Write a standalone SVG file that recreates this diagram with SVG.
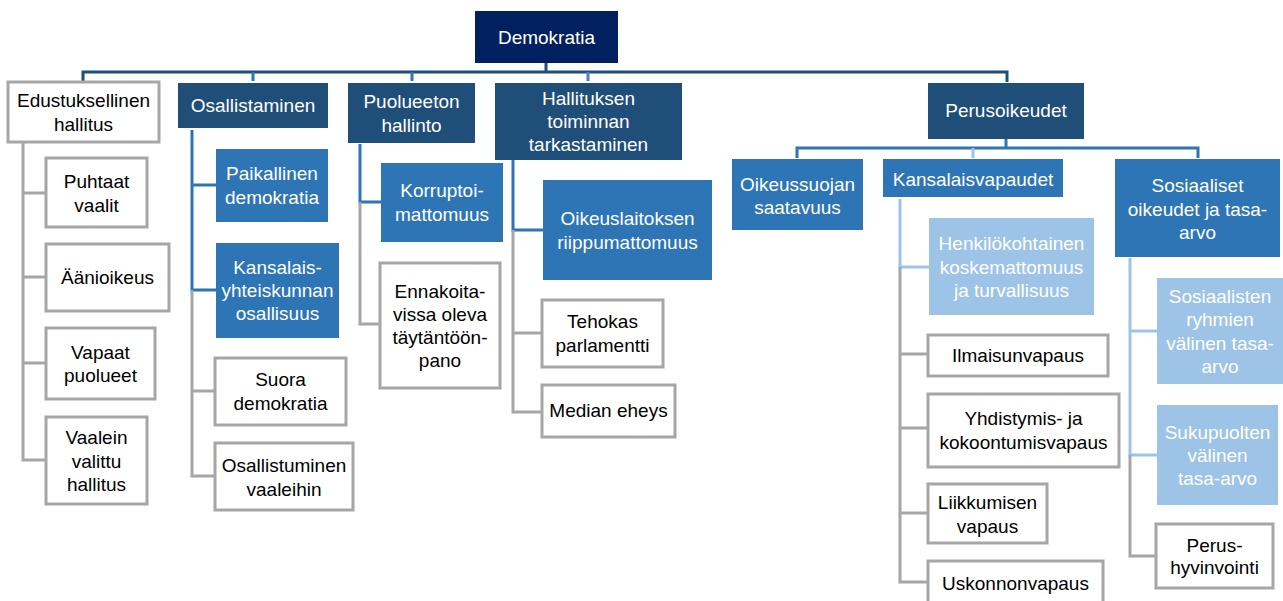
<svg xmlns="http://www.w3.org/2000/svg" width="1283" height="601" viewBox="0 0 1283 601">
<style>
text{font-family:"Liberation Sans",Arial,sans-serif;font-size:19px;text-anchor:middle;dominant-baseline:central}
.root{fill:#002060}
.l1{fill:#1F4E79}
.l2{fill:#2E75B6}
.l3{fill:#9DC3E6}
.w{fill:#FFFFFF;stroke:#A6A6A6;stroke-width:3}
.wt{fill:#FFFFFF}
.bt{fill:#000000}
.c{fill:none;stroke-width:3}
.cd{stroke:#1F4E79}
.cm{stroke:#2E75B6}
.cl{stroke:#9DC3E6}
.cg{stroke:#A6A6A6}
.ch{stroke:#4A7CC9}
</style>
<rect width="1283" height="601" fill="#FFFFFF"/>
<g id="connectors">
<path class="c cd" d="M546,63 V72 M83,81 V72 H1007 V82"/>
<path class="c cm" d="M253,72 V81 M412,72 V81"/>
<path class="c ch" d="M588,72 V81"/>
<path class="c cm" d="M1006,139 V148 M797,158 V148 H1198 V158"/>
<path class="c cl" d="M973,148 V158"/>
<path class="c cg" d="M23,142 V460 H45 M23,193 H45 M23,277 H45 M23,363 H45"/>
<path class="c cm" d="M192,130 V290 H216 M192,185 H216"/>
<path class="c cg" d="M192,290 V476 H214 M192,391 H214"/>
<path class="c cm" d="M360,144 V202 H381"/>
<path class="c cg" d="M360,202 V324 H379"/>
<path class="c cm" d="M513,160 V230 H543"/>
<path class="c cg" d="M513,230 V412 H541 M513,333 H541"/>
<path class="c cl" d="M900,199 V267 H929"/>
<path class="c cg" d="M900,267 V582 H927 M900,354 H927 M900,428 H927 M900,513 H927"/>
<path class="c cl" d="M1130,258 V455 H1157 M1130,331 H1157"/>
<path class="c cg" d="M1130,455 V556 H1155"/>
</g>
<g id="n-demokratia"><rect class="root" x="475" y="11" width="143" height="52"/><text class="wt" x="546.5" y="37">Demokratia</text></g>
<g id="n-edustuksellinen"><rect class="w" x="8" y="82" width="151" height="60"/><text class="bt" x="83.5" y="100">Edustuksellinen</text><text class="bt" x="83.5" y="124">hallitus</text></g>
<g id="n-puhtaat"><rect class="w" x="46" y="158" width="101" height="69"/><text class="bt" x="96.5" y="181">Puhtaat</text><text class="bt" x="96.5" y="205">vaalit</text></g>
<g id="n-aanioikeus"><rect class="w" x="46" y="244" width="123" height="67"/><text class="bt" x="107.5" y="277">Äänioikeus</text></g>
<g id="n-vapaat"><rect class="w" x="46" y="328" width="109" height="71"/><text class="bt" x="100.5" y="352">Vapaat</text><text class="bt" x="100.5" y="375">puolueet</text></g>
<g id="n-vaalein"><rect class="w" x="46" y="417" width="101" height="87"/><text class="bt" x="96.5" y="437">Vaalein</text><text class="bt" x="96.5" y="461">valittu</text><text class="bt" x="96.5" y="484">hallitus</text></g>
<g id="n-osallistaminen"><rect class="l1" x="178" y="83" width="150" height="45"/><text class="wt" x="253" y="105">Osallistaminen</text></g>
<g id="n-paikallinen"><rect class="l2" x="216" y="149" width="112" height="73"/><text class="wt" x="272" y="173">Paikallinen</text><text class="wt" x="272" y="197">demokratia</text></g>
<g id="n-kansalaisyhteiskunta"><rect class="l2" x="216" y="243" width="123" height="95"/><text class="wt" x="277.5" y="267">Kansalais-</text><text class="wt" x="277.5" y="290">yhteiskunnan</text><text class="wt" x="277.5" y="313">osallisuus</text></g>
<g id="n-suora"><rect class="w" x="215" y="358" width="131" height="67"/><text class="bt" x="280.5" y="379">Suora</text><text class="bt" x="280.5" y="403">demokratia</text></g>
<g id="n-osallistuminen"><rect class="w" x="215" y="443" width="138" height="67"/><text class="bt" x="284" y="465">Osallistuminen</text><text class="bt" x="284" y="489">vaaleihin</text></g>
<g id="n-puolueeton"><rect class="l1" x="348" y="83" width="127" height="60"/><text class="wt" x="411.5" y="101">Puolueeton</text><text class="wt" x="411.5" y="125">hallinto</text></g>
<g id="n-korruptio"><rect class="l2" x="381" y="163" width="122" height="79"/><text class="wt" x="442" y="190">Korruptoi-</text><text class="wt" x="442" y="214">mattomuus</text></g>
<g id="n-ennakoitava"><rect class="w" x="380" y="263" width="120" height="125"/><text class="bt" x="440" y="291">Ennakoita-</text><text class="bt" x="440" y="314">vissa oleva</text><text class="bt" x="440" y="337">täytäntöön-</text><text class="bt" x="440" y="360">pano</text></g>
<g id="n-hallituksen"><rect class="l1" x="495" y="83" width="187" height="77"/><text class="wt" x="588.5" y="98">Hallituksen</text><text class="wt" x="588.5" y="121">toiminnan</text><text class="wt" x="588.5" y="144">tarkastaminen</text></g>
<g id="n-oikeuslaitos"><rect class="l2" x="543" y="180" width="169" height="100"/><text class="wt" x="627.5" y="218">Oikeuslaitoksen</text><text class="wt" x="627.5" y="242">riippumattomuus</text></g>
<g id="n-tehokas"><rect class="w" x="542" y="300" width="121" height="67"/><text class="bt" x="602.5" y="321">Tehokas</text><text class="bt" x="602.5" y="345">parlamentti</text></g>
<g id="n-median"><rect class="w" x="542" y="385" width="133" height="52"/><text class="bt" x="608.5" y="410">Median eheys</text></g>
<g id="n-perusoikeudet"><rect class="l1" x="928" y="83" width="156" height="56"/><text class="wt" x="1006" y="110">Perusoikeudet</text></g>
<g id="n-oikeussuoja"><rect class="l2" x="732" y="159" width="131" height="71"/><text class="wt" x="797.5" y="184">Oikeussuojan</text><text class="wt" x="797.5" y="207">saatavuus</text></g>
<g id="n-kansalaisvapaudet"><rect class="l2" x="883" y="159" width="180" height="38"/><text class="wt" x="973" y="179">Kansalaisvapaudet</text></g>
<g id="n-henkilo"><rect class="l3" x="929" y="218" width="165" height="97"/><text class="wt" x="1011.5" y="243">Henkilökohtainen</text><text class="wt" x="1011.5" y="267">koskemattomuus</text><text class="wt" x="1011.5" y="290">ja turvallisuus</text></g>
<g id="n-ilmaisu"><rect class="w" x="928" y="335" width="180" height="41"/><text class="bt" x="1018" y="355">Ilmaisunvapaus</text></g>
<g id="n-yhdistymis"><rect class="w" x="928" y="394" width="191" height="73"/><text class="bt" x="1023.5" y="418">Yhdistymis- ja</text><text class="bt" x="1023.5" y="442">kokoontumisvapaus</text></g>
<g id="n-liikkumisen"><rect class="w" x="928" y="484" width="119" height="59"/><text class="bt" x="987.5" y="502">Liikkumisen</text><text class="bt" x="987.5" y="526">vapaus</text></g>
<g id="n-uskonnon"><rect class="w" x="928" y="561" width="175" height="50"/><text class="bt" x="1015.5" y="583">Uskonnonvapaus</text></g>
<g id="n-sosiaaliset"><rect class="l2" x="1115" y="159" width="165" height="98"/><text class="wt" x="1197.5" y="185">Sosiaaliset</text><text class="wt" x="1197.5" y="209">oikeudet ja tasa-</text><text class="wt" x="1197.5" y="232">arvo</text></g>
<g id="n-sosiaalisten"><rect class="l3" x="1157" y="278" width="126" height="106"/><text class="wt" x="1220" y="296">Sosiaalisten</text><text class="wt" x="1220" y="319">ryhmien</text><text class="wt" x="1220" y="343">välinen tasa-</text><text class="wt" x="1220" y="366">arvo</text></g>
<g id="n-sukupuolten"><rect class="l3" x="1157" y="405" width="121" height="100"/><text class="wt" x="1217.5" y="432">Sukupuolten</text><text class="wt" x="1217.5" y="455">välinen</text><text class="wt" x="1217.5" y="478">tasa-arvo</text></g>
<g id="n-perushyvinvointi"><rect class="w" x="1156" y="524" width="117" height="64"/><text class="bt" x="1214.5" y="545">Perus-</text><text class="bt" x="1214.5" y="567">hyvinvointi</text></g>
</svg>
